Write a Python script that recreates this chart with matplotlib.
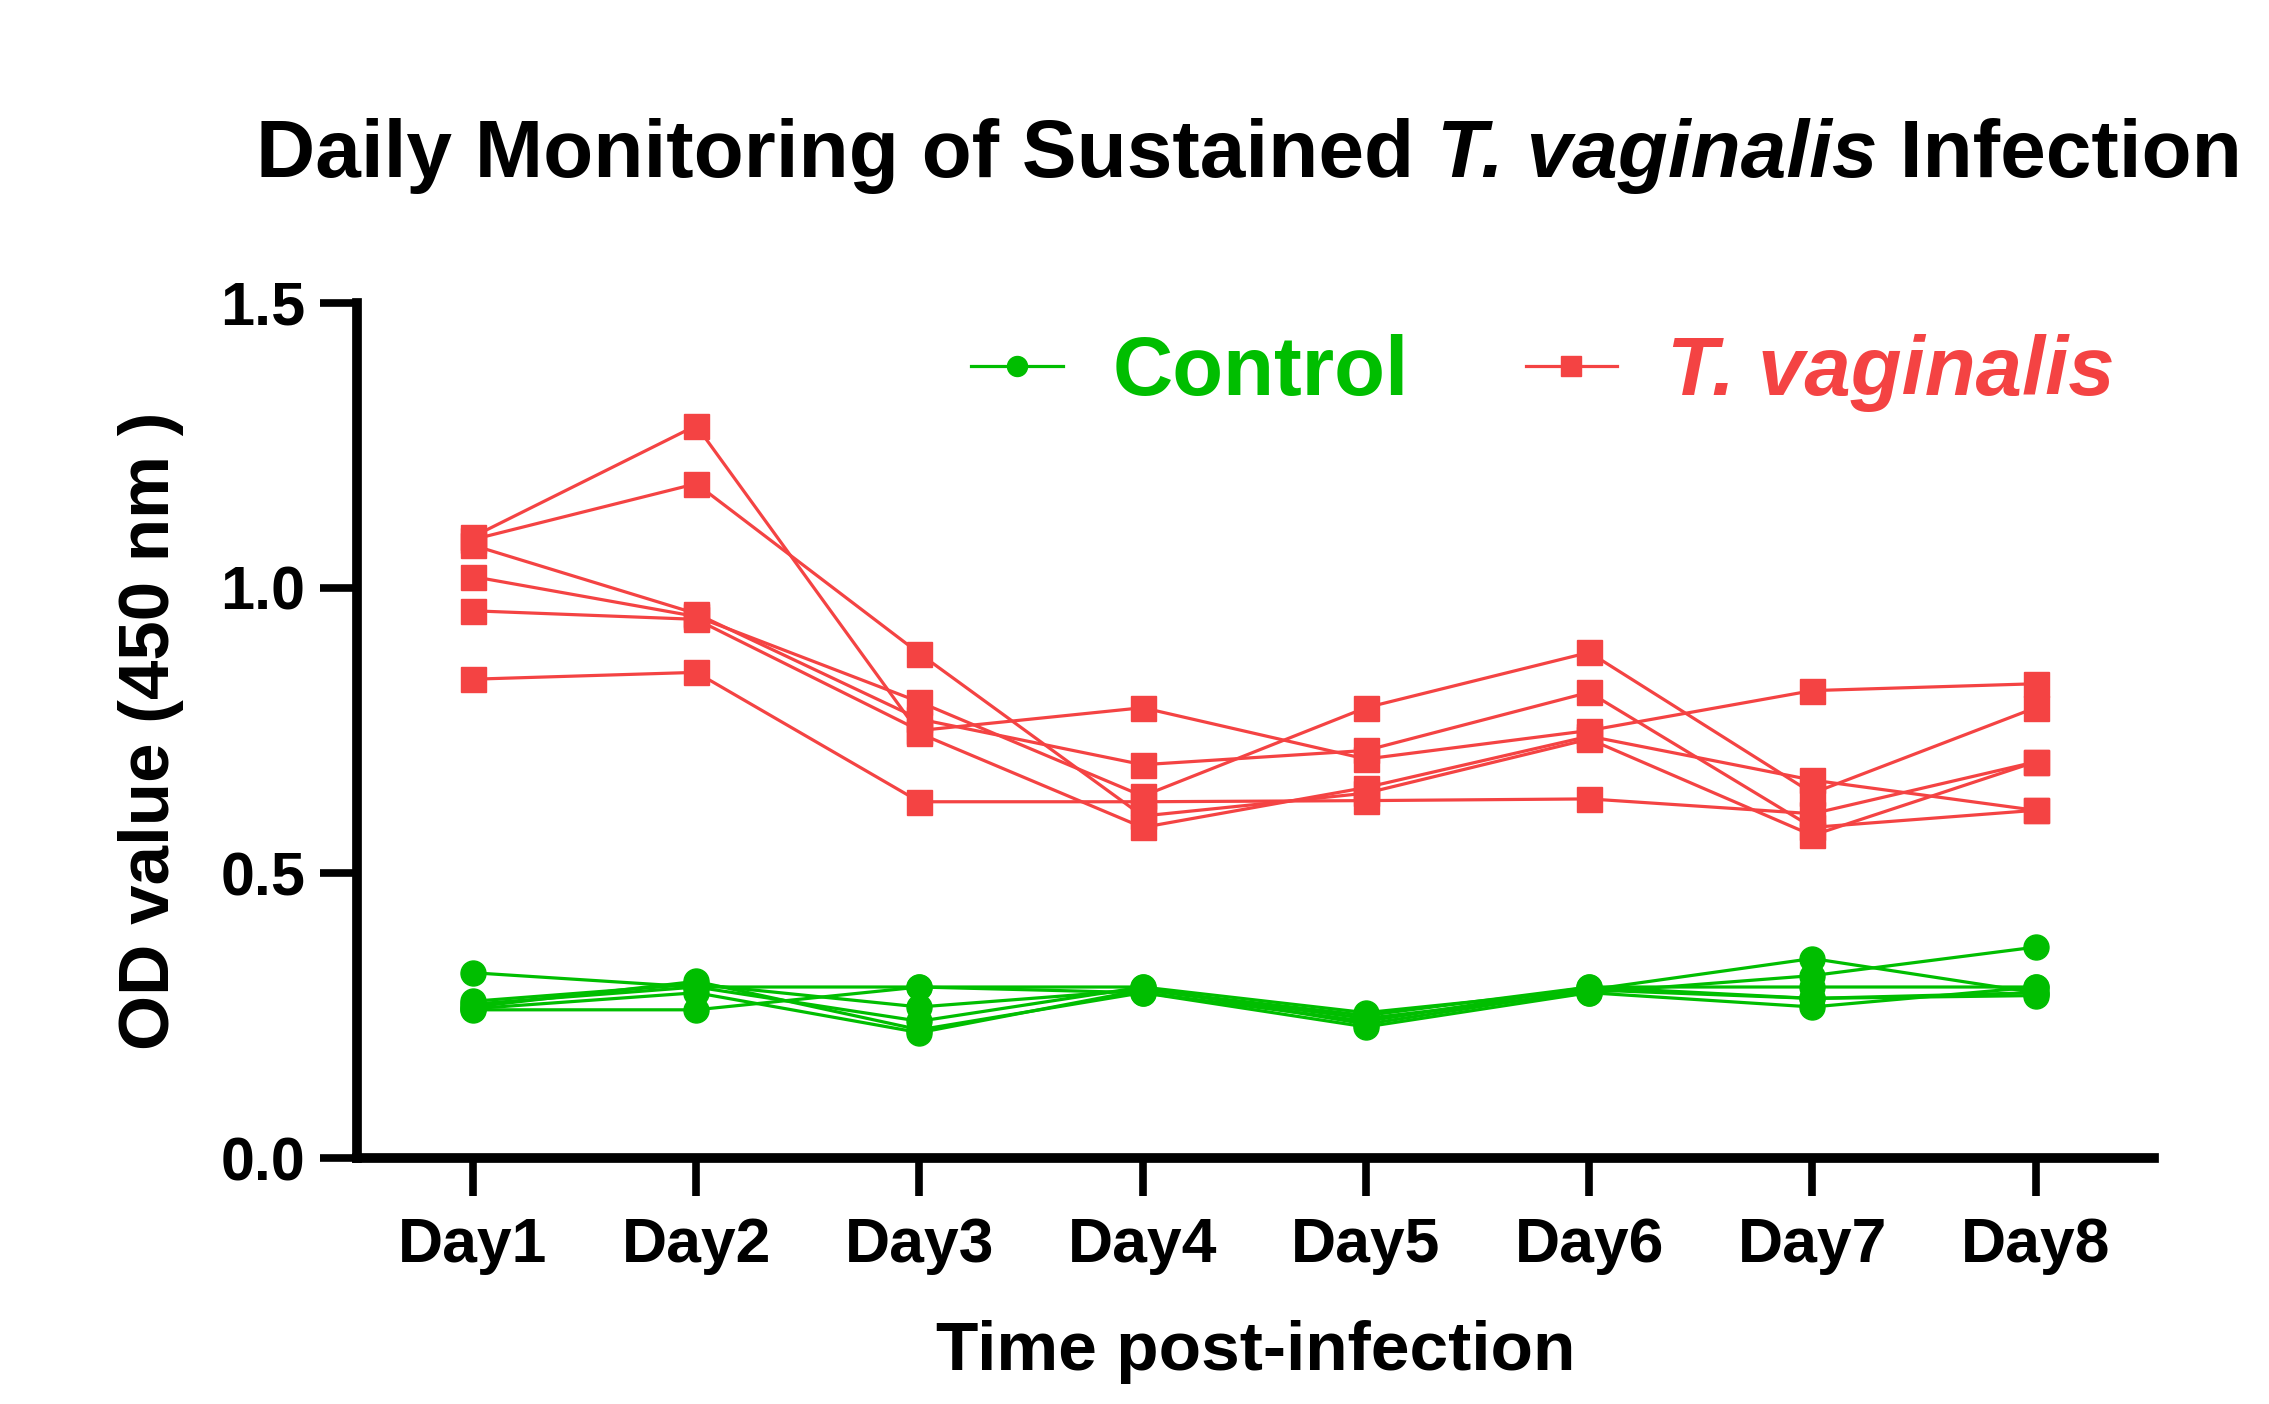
import numpy as np
import matplotlib
matplotlib.use("Agg")
import matplotlib.pyplot as plt

plt.rcParams["font.family"] = ["Liberation Sans", "DejaVu Sans"]
plt.rcParams["font.weight"] = "bold"

days = ["Day1", "Day2", "Day3", "Day4", "Day5", "Day6", "Day7", "Day8"]

# OD450 per replicate
control = [
    [0.325, 0.300, 0.300, 0.300, 0.255, 0.295, 0.350, 0.290],
    [0.275, 0.305, 0.265, 0.295, 0.245, 0.290, 0.320, 0.370],
    [0.260, 0.260, 0.300, 0.290, 0.240, 0.300, 0.300, 0.300],
    [0.270, 0.300, 0.240, 0.300, 0.235, 0.295, 0.280, 0.290],
    [0.265, 0.310, 0.225, 0.290, 0.230, 0.290, 0.265, 0.300],
    [0.262, 0.290, 0.220, 0.295, 0.250, 0.300, 0.280, 0.285],
]
tv = [
    [1.090, 1.285, 0.745, 0.580, 0.650, 0.740, 0.663, 0.610],
    [1.085, 1.183, 0.885, 0.600, 0.640, 0.735, 0.566, 0.695],
    [1.075, 0.955, 0.770, 0.690, 0.715, 0.817, 0.580, 0.610],
    [1.020, 0.950, 0.800, 0.635, 0.790, 0.887, 0.640, 0.790],
    [0.960, 0.945, 0.750, 0.790, 0.700, 0.750, 0.820, 0.832],
    [0.840, 0.852, 0.625, 0.625, 0.627, 0.630, 0.604, 0.695],
]

GREEN = "#00BE00"
RED = "#F44343"

fig = plt.figure(figsize=(22.69, 14.04), dpi=100)
ax = fig.add_axes([0.1573, 0.1752, 0.792, 0.609])

x = np.arange(1, len(days) + 1)
for i, rep in enumerate(control):
    ax.plot(x, rep, color=GREEN, lw=2.3, marker="o", markersize=18,
            label="Control" if i == 0 else None)
for i, rep in enumerate(tv):
    ax.plot(x, rep, color=RED, lw=2.3, marker="s", markersize=18,
            label="T. vaginalis" if i == 0 else None)

ax.set_xlim(0.48, 8.53)
ax.set_ylim(0, 1.5)
ax.set_xticks(x)
ax.set_xticklabels(days)
ax.set_yticks([0, 0.5, 1.0, 1.5])
ax.set_yticklabels(["0.0", "0.5", "1.0", "1.5"])
for s in ["top", "right"]:
    ax.spines[s].set_visible(False)
for s in ["left", "bottom"]:
    ax.spines[s].set_linewidth(7)
ax.tick_params(axis="both", length=27, width=5.5)
ax.tick_params(axis="y", pad=10, labelsize=44)
ax.tick_params(axis="x", pad=15, labelsize=45)
for lab in ax.get_xticklabels() + ax.get_yticklabels():
    lab.set_fontweight("bold")

ax.set_xlabel("Time post-infection", fontsize=50, fontweight="bold")
ax.xaxis.set_label_coords(0.5, -0.19)
ax.set_ylabel("OD value (450 nm )", fontsize=51, fontweight="bold")
ax.yaxis.set_label_coords(-0.096, 0.5)

leg = ax.legend(loc="center", bbox_to_anchor=(0.66, 0.918), ncol=2,
                frameon=False, handlelength=1.1,
                handletextpad=0.6, columnspacing=1.4, markerscale=0.8,
                labelcolor="linecolor", prop={"weight": "bold", "size": 60})
leg.get_texts()[1].set_fontstyle("italic")

# title with italic species name, built from pieces
parts = [("Daily Monitoring of Sustained ", "normal"),
         ("T. vaginalis", "italic"),
         (" Infection", "normal")]
renderer = fig.canvas.get_renderer()
texts = []
for s, style in parts:
    t = fig.text(0, 0.889, s, ha="left", va="center", fontsize=59,
                 fontweight="bold", fontstyle=style)
    texts.append(t)
widths = [t.get_window_extent(renderer).width for t in texts]
total = sum(widths)
xpos = 0.5505 * fig.bbox.width - total / 2
for t, w in zip(texts, widths):
    t.set_x(xpos / fig.bbox.width)
    xpos += w

fig.savefig("out.png", dpi=100)
